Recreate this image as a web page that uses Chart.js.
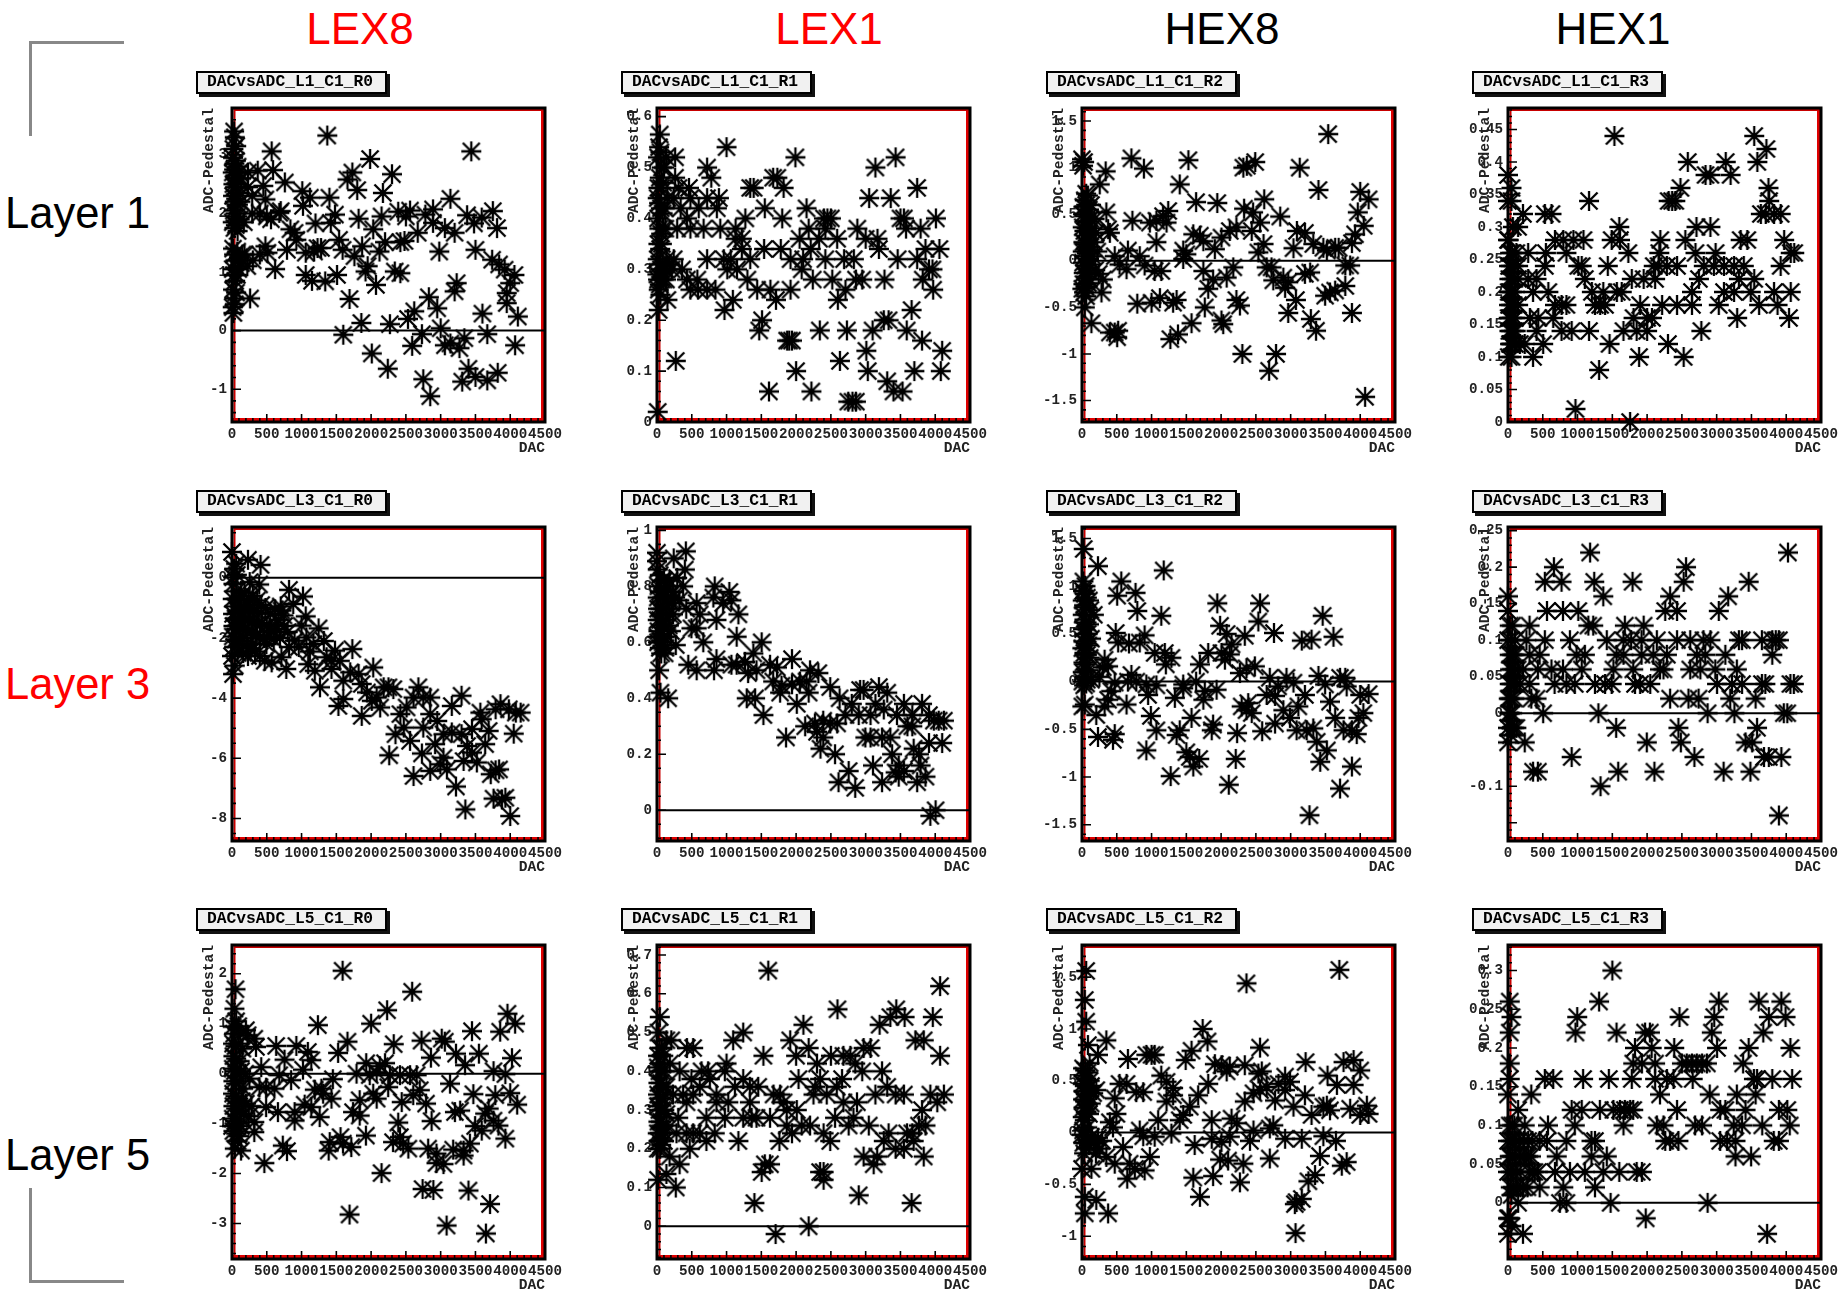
<!DOCTYPE html>
<html>
<head>
<meta charset="utf-8">
<title>DACvsADC</title>
<script src="https://cdn.jsdelivr.net/npm/chart.js@4/dist/chart.umd.min.js"></script>
<style>
    html, body { margin: 0; padding: 0; background: #fff; }
    body { position: relative; width: 1838px; height: 1290px; overflow: hidden; }
    canvas { position: absolute; }
    .head { position: absolute; font: 44px "Liberation Sans", sans-serif; transform: translate(-50%, -50%); white-space: nowrap; }
    .layer { position: absolute; font: 43.5px "Liberation Sans", sans-serif; transform: translateY(-50%); white-space: nowrap; }
    .pave { position: absolute; box-sizing: border-box; width: 191px; height: 23px; border: 2px solid #000; background: #f1f1f1;
        box-shadow: 3px 3px 0 #111; font: bold 16.3px "Liberation Mono", monospace; line-height: 18px; padding-left: 9px; white-space: nowrap; }
    .bracket { position: absolute; width: 92px; height: 92px; border: 0 solid #888; }
</style>
</head>
<body>
<script>
const heads = ['LEX8', 'LEX1', 'HEX8', 'HEX1'];
const headColors = ['#ff0000', '#ff0000', '#000000', '#000000'];
const layers = ['Layer 1', 'Layer 3', 'Layer 5'];
const layerColors = ['#000000', '#ff0000', '#000000'];
const xTicks = [0, 500, 1000, 1500, 2000, 2500, 3000, 3500, 4000, 4500];

// [DAC, ADC-Pedestal]
const L1_R0 = [[1370,3.33],[3440,3.06],[570,3.06],[1985,2.93],[590,2.74],[2300,2.67],[1730,2.7],[1660,2.58],[1800,2.4],[2170,2.35],[760,2.53],[1010,2.38],[1120,2.27],[1400,2.27],[1020,2.13],[3140,2.25],[1480,1.98],[1200,1.83],[1420,1.84],[700,2.04],[680,2.01],[1820,1.91],[2150,1.95],[2390,2.03],[2560,2.05],[2500,1.95],[2890,2.07],[2780,1.98],[2890,1.84],[3060,1.75],[3200,1.67],[3380,1.97],[3480,1.83],[3590,1.93],[3750,2.04],[3810,1.75],[2030,1.73],[2670,1.67],[1540,1.55],[1590,1.38],[2200,1.51],[2420,1.51],[2480,1.53],[2980,1.35],[3500,1.38],[1870,1.44],[2120,1.35],[1760,1.27],[1230,1.41],[1180,1.35],[1280,1.41],[1060,1.33],[790,1.38],[900,1.67],[840,1.73],[925,1.55],[480,1.44],[400,1.3],[510,1.33],[620,1.05],[1060,.95],[1150,.85],[1340,.84],[1510,.95],[1950,1.1],[1920,1.01],[2340,1.01],[2420,.98],[2070,.78],[3740,1.21],[3840,1.13],[3920,1.04],[4060,.95],[4000,.81],[3950,.64],[3950,.47],[3230,.81],[3200,.67],[2830,.57],[2950,.38],[2620,.33],[1690,.54],[260,.55],[2530,.2],[2270,.11],[1860,.13],[1600,-.07],[3600,.29],[4110,.24],[3670,-.06],[2730,-.06],[3000,.04],[3340,-.13],[2590,-.26],[3060,-.25],[3140,-.22],[3270,-.3],[4070,-.25],[2010,-.39],[2240,-.65],[2750,-.83],[2850,-1.12],[3310,-.87],[3400,-.65],[3500,-.79],[3670,-.85],[3820,-.72],[230,2.7],[370,2.73],[230,2.45],[450,2.47],[480,2.24],[290,2],[400,2],[170,1.85],[290,2.3],[500,1.95],[560,1.9],[150,1.3],[300,1.2],[220,1.1],[30,3.4],[40,3.3],[20,3.1],[60,3.15],[15,2.95],[35,2.85],[55,2.9],[80,2.8],[10,2.7],[30,2.75],[50,2.65],[70,2.6],[100,2.7],[20,2.5],[45,2.45],[65,2.5],[90,2.35],[130,2.6],[15,2.3],[40,2.2],[60,2.25],[85,2.15],[120,2.2],[25,2.05],[50,2],[75,1.95],[110,1.9],[10,1.85],[35,1.75],[55,1.8],[80,1.7],[15,1.4],[30,1.3],[50,1.2],[75,1.35],[100,1.25],[130,1.15],[180,1.3],[10,1.05],[25,.95],[45,.85],[70,.95],[90,1.05],[15,.7],[35,.55],[60,.65],[10,.4],[20,.3],[40,.45]];

const L1_R1 = [[10,.02],[270,.12],[25,.22],[150,.24],[970,.22],[1090,.24],[1510,.2],[1470,.18],[1870,.16],[1940,.16],[1900,.16],[2340,.18],[2730,.18],[3100,.18],[3260,.2],[3330,.2],[3590,.18],[3660,.22],[3810,.16],[4100,.14],[3010,.14],[1610,.06],[2000,.1],[2220,.06],[2630,.12],[2750,.04],[2860,.04],[2810,.04],[3030,.1],[3310,.08],[3400,.06],[3530,.06],[3700,.1],[4080,.1],[40,.565],[260,.52],[720,.5],[1000,.54],[780,.48],[1990,.52],[3140,.5],[3430,.52],[3740,.46],[1390,.46],[1340,.46],[1670,.48],[1730,.48],[1820,.46],[1550,.42],[1270,.4],[1800,.4],[2150,.42],[3050,.44],[3360,.44],[3500,.4],[3550,.4],[4010,.4],[2400,.4],[2450,.4],[2500,.4],[2180,.38],[2880,.38],[2420,.38],[3580,.38],[3790,.38],[2050,.36],[2330,.36],[2590,.36],[3000,.36],[3170,.36],[1130,.36],[1220,.36],[1540,.34],[1780,.34],[1220,.34],[2210,.34],[3190,.34],[3860,.34],[4060,.34],[720,.32],[960,.32],[1060,.32],[1340,.32],[1920,.32],[2100,.32],[2420,.32],[2690,.32],[2830,.32],[3460,.32],[3740,.32],[1010,.3],[1150,.3],[2080,.3],[3960,.3],[3910,.3],[1300,.28],[2240,.28],[2520,.28],[2860,.28],[2950,.28],[3270,.28],[3820,.28],[480,.26],[590,.26],[720,.26],[840,.26],[1440,.26],[1630,.26],[1920,.26],[2710,.26],[3970,.26],[1710,.24],[2600,.24],[290,.38],[480,.38],[670,.38],[910,.38],[1130,.38],[860,.42],[340,.42],[600,.42],[240,.44],[720,.44],[890,.44],[480,.44],[310,.46],[460,.46],[260,.48],[430,.4],[360,.3],[430,.28],[580,.28],[240,.32],[140,.32],[120,.3],[30,.54],[50,.53],[15,.52],[70,.5],[100,.5],[40,.48],[20,.46],[60,.46],[90,.47],[130,.52],[10,.44],[30,.43],[55,.42],[80,.41],[110,.42],[150,.44],[15,.4],[35,.38],[60,.37],[90,.38],[120,.38],[20,.35],[45,.34],[70,.35],[10,.32],[30,.31],[55,.3],[80,.31],[110,.3],[15,.28],[40,.27],[65,.28],[95,.28],[130,.28],[25,.26],[5,.29],[50,.25],[180,.31],[210,.3]];

const L1_R2 = [[3540,1.36],[1530,1.08],[710,1.1],[890,.99],[340,.96],[2370,1.02],[2490,1.06],[2320,1],[3130,1],[1405,.82],[255,.82],[3400,.76],[1640,.63],[1945,.62],[2620,.66],[4000,.74],[4120,.66],[2330,.56],[2460,.52],[2850,.475],[3965,.52],[1240,.535],[1165,.48],[1215,.41],[725,.43],[975,.41],[1070,.43],[350,.52],[375,.34],[400,.3],[2560,.41],[4050,.375],[3925,.285],[3880,.19],[2220,.36],[2125,.32],[2005,.25],[2440,.32],[3090,.32],[3205,.3],[3040,.135],[2610,.18],[2535,.09],[1600,.285],[1695,.27],[1745,.21],[1910,.125],[1070,.2],[1455,.11],[1500,.07],[1455,.02],[3325,.18],[3470,.14],[3520,.11],[3640,.14],[3690,.14],[3785,-.05],[3855,-.05],[470,.05],[540,-.04],[660,.11],[640,-.09],[830,.05],[900,-.05],[1045,-.11],[1140,-.11],[1745,-.11],[2175,-.07],[2080,-.18],[1885,-.2],[1815,-.3],[2655,-.07],[2725,-.07],[2750,-.21],[2895,-.18],[2920,-.29],[2965,-.23],[3205,-.14],[3280,-.125],[3785,-.27],[3640,-.32],[3565,-.34],[3495,-.375],[3075,-.42],[280,-.34],[300,-.2],[40,-.5],[135,-.67],[400,-.77],[470,-.77],[505,-.82],[520,-.75],[795,-.46],[1000,-.45],[1120,-.4],[1310,-.45],[1360,-.42],[1765,-.5],[2220,-.42],[2270,-.48],[2965,-.56],[3290,-.625],[3365,-.75],[3880,-.56],[1270,-.84],[1380,-.79],[1575,-.67],[2005,-.64],[2030,-.68],[2305,-1],[2790,-1],[2690,-1.18],[4070,-1.46],[0,1.09],[15,1.02],[30,1.06],[60,.72],[40,.65],[85,.7],[20,.58],[60,.6],[100,.55],[130,.6],[180,.45],[15,.5],[45,.48],[80,.42],[120,.45],[200,.3],[10,.36],[35,.32],[65,.35],[100,.3],[140,.35],[170,.2],[20,.2],[50,.18],[80,.22],[120,.15],[220,.1],[10,.1],[40,.05],[70,.08],[100,.02],[150,.05],[15,-.02],[45,-.05],[80,-.08],[120,-.04],[190,-.1],[25,-.13],[60,-.17],[100,-.19],[20,-.25],[50,-.28],[85,-.24],[30,-.34],[60,-.38],[5,-.3],[240,-.14]];

const L1_R3 = [[1530,.44],[3540,.44],[3715,.42],[3585,.4],[2585,.4],[3130,.4],[3200,.38],[2840,.38],[2910,.38],[2480,.36],[3745,.36],[2360,.34],[2310,.34],[2405,.34],[1165,.34],[3755,.34],[0,.38],[50,.36],[0,.34],[50,.34],[145,.3],[70,.3],[215,.32],[530,.32],[625,.32],[3635,.32],[3705,.32],[3825,.32],[3920,.32],[1600,.3],[2710,.3],[2910,.3],[0,.28],[675,.28],[795,.28],[940,.28],[1085,.28],[1490,.28],[1610,.28],[2190,.28],[2550,.28],[3345,.28],[3440,.28],[3970,.28],[120,.26],[290,.26],[545,.26],[840,.26],[1730,.26],[2175,.26],[2695,.26],[2985,.26],[4065,.26],[4115,.26],[145,.24],[530,.24],[1010,.24],[1060,.24],[1435,.24],[2095,.24],[2285,.24],[2430,.24],[2815,.24],[2960,.24],[3105,.24],[3250,.24],[3390,.24],[3920,.24],[2165,.24],[145,.22],[290,.22],[410,.22],[1105,.22],[1780,.22],[1950,.22],[2115,.22],[2745,.22],[3320,.22],[3540,.22],[360,.2],[580,.2],[1205,.2],[1370,.2],[1565,.2],[1635,.2],[2645,.2],[3105,.2],[3250,.2],[3490,.2],[3825,.2],[4065,.2],[145,.18],[675,.18],[770,.18],[840,.18],[1250,.18],[1325,.18],[1395,.18],[1900,.18],[2215,.18],[2430,.18],[2645,.18],[3030,.18],[3610,.18],[3875,.18],[315,.16],[435,.16],[650,.16],[1805,.16],[2000,.16],[2070,.16],[3295,.16],[4040,.16],[410,.14],[770,.14],[915,.14],[1165,.14],[1660,.14],[1850,.14],[2000,.14],[2780,.14],[170,.12],[240,.12],[505,.12],[1460,.12],[2300,.12],[50,.1],[360,.1],[1885,.1],[2525,.1],[1310,.08],[970,.02],[1755,0],[10,.28],[30,.26],[60,.26],[15,.24],[40,.24],[80,.24],[20,.22],[55,.22],[90,.22],[10,.2],[30,.2],[60,.2],[100,.2],[15,.18],[45,.18],[80,.18],[10,.16],[30,.16],[60,.16],[100,.16],[20,.14],[45,.14],[85,.14],[110,.14],[30,.12],[60,.12],[100,.12],[10,.1],[40,.12]];

const L3_R0 = [[0,.86],[230,.6],[410,.43],[60,.47],[255,-.14],[390,-.22],[15,.02],[820,-.4],[1020,-.62],[1060,-1.28],[880,-.87],[710,-1.09],[1245,-1.68],[1000,-1.59],[1170,-2.2],[900,-2.09],[1070,-1.98],[1730,-2.37],[1480,-2.42],[1430,-2.76],[1360,-2.64],[1550,-2.76],[1095,-2.87],[1190,-3.09],[1265,-3.64],[780,-3.03],[710,-2.64],[470,-2.76],[570,-2.81],[300,-2.2],[495,-2.2],[1430,-3.03],[2030,-2.98],[1820,-3.2],[1700,-3.14],[1600,-3.42],[1865,-3.53],[1940,-3.81],[2180,-3.64],[2250,-3.64],[2320,-3.7],[2010,-4.09],[1600,-4.03],[1530,-4.26],[1865,-4.59],[2130,-4.31],[2080,-3.98],[2680,-3.64],[2750,-3.98],[2610,-3.98],[2850,-3.98],[2510,-4.31],[2420,-4.53],[2850,-4.53],[2950,-4.76],[3160,-4.26],[3300,-3.92],[2350,-5.2],[2470,-4.98],[2560,-5.42],[2750,-4.98],[2920,-5.53],[3040,-5.2],[3160,-5.14],[3300,-5.2],[3450,-5.03],[3570,-4.48],[3590,-4.7],[3690,-5.09],[3640,-5.53],[3380,-5.59],[3450,-5.81],[3860,-4.2],[3790,-4.37],[3980,-4.37],[4080,-4.48],[4150,-4.48],[4050,-5.18],[2260,-5.9],[2730,-5.84],[3040,-5.98],[2995,-6.2],[3330,-6.09],[3520,-6.14],[2610,-6.59],[2850,-6.42],[3090,-6.37],[3220,-6.94],[3355,-7.7],[3720,-6.53],[3790,-6.4],[3840,-6.37],[3760,-7.34],[3880,-7.37],[3930,-7.31],[4000,-7.92],[15,-3.2],[40,-2.92],[0,-2.6],[160,-2.5],[30,.3],[70,.1],[20,-.2],[60,-.45],[100,-.7],[10,-.7],[40,-.95],[80,-1.1],[130,-.95],[170,-1.05],[220,-.9],[270,-1],[320,-1.1],[380,-1.15],[15,-1.2],[50,-1.35],[90,-1.4],[140,-1.3],[190,-1.35],[240,-1.4],[300,-1.45],[360,-1.55],[430,-1.5],[500,-1.6],[560,-1.75],[620,-1.55],[670,-1.4],[740,-1.25],[20,-1.6],[60,-1.7],[110,-1.65],[160,-1.7],[220,-1.75],[280,-1.8],[340,-1.9],[400,-1.95],[460,-2],[540,-1.95],[600,-2.05],[10,-1.95],[50,-2.05],[100,-2.1],[210,-2.25],[270,-2.35],[130,-.6],[180,-.5],[240,-.7],[300,-.6],[360,-.75],[420,-.9],[480,-1],[550,-1.2],[620,-1.05],[700,-.95],[640,-1.7],[750,-1.6],[800,-1.8],[690,-2],[150,-2],[30,-2.3],[80,-2.5],[230,-2.6],[330,-2.45],[400,-2.6],[820,-2.3],[960,-2.3],[1120,-2.45],[1320,-2.1]];

const L3_R1 = [[0,.92],[415,.925],[240,.9],[400,.86],[290,.83],[0,.89],[830,.8],[1040,.78],[375,.8],[810,.76],[1170,.7],[950,.74],[1070,.75],[855,.68],[570,.74],[615,.7],[420,.72],[495,.65],[665,.6],[570,.65],[270,.59],[110,.56],[1145,.62],[1505,.6],[450,.52],[570,.5],[820,.5],[855,.54],[1070,.52],[1145,.52],[1265,.53],[1385,.56],[1940,.54],[1310,.49],[1430,.5],[1625,.52],[1725,.51],[2200,.5],[2320,.49],[2055,.46],[1670,.46],[1790,.445],[1940,.45],[2150,.46],[2490,.44],[1770,.42],[2180,.42],[1290,.4],[1410,.4],[2010,.38],[1530,.34],[2625,.4],[2920,.43],[2970,.43],[3190,.44],[3310,.42],[2800,.38],[3140,.38],[3550,.38],[3810,.38],[2710,.34],[2900,.34],[3070,.34],[3260,.36],[3450,.34],[3670,.34],[3910,.34],[3980,.32],[4050,.32],[4125,.32],[3600,.3],[3670,.3],[2390,.32],[2490,.31],[2590,.31],[2270,.31],[2130,.3],[2300,.28],[2390,.26],[2350,.22],[1855,.26],[2995,.26],[3070,.26],[3235,.26],[3355,.26],[3910,.24],[4100,.24],[3690,.22],[3380,.2],[2560,.2],[3765,.2],[3790,.16],[3105,.16],[3475,.16],[3550,.14],[3430,.135],[2755,.14],[3860,.12],[3475,.12],[2610,.1],[3235,.1],[3740,.1],[2850,.08],[4005,0],[3930,-.02],[30,.5],[50,.42],[160,.4],[10,.86],[40,.84],[70,.82],[20,.8],[100,.82],[140,.8],[180,.82],[230,.78],[10,.76],[40,.78],[75,.76],[115,.78],[160,.76],[205,.74],[260,.76],[320,.75],[15,.72],[50,.72],[90,.72],[135,.72],[180,.7],[230,.7],[10,.68],[45,.68],[80,.66],[125,.68],[170,.66],[20,.64],[60,.63],[100,.62],[150,.62],[200,.64],[15,.6],[40,.58],[80,.6],[120,.58],[5,.62],[60,.56]];

const L3_R2 = [[25,1.39],[230,1.21],[1175,1.165],[565,1.05],[505,.9],[770,.93],[795,.74],[1140,.69],[1945,.82],[2560,.82],[3460,.69],[1985,.585],[2535,.63],[2760,.51],[2340,.48],[2080,.5],[485,.51],[520,.41],[675,.4],[900,.485],[830,.41],[3160,.43],[3300,.44],[3615,.47],[2150,.39],[1815,.3],[1045,.3],[1190,.3],[1285,.25],[2005,.3],[2055,.23],[2125,.285],[1695,.18],[1205,.18],[325,.23],[375,.16],[2270,.09],[2365,.14],[2485,.16],[710,.07],[660,0],[780,0],[3400,.06],[3710,.04],[3785,.04],[2940,.04],[2700,.04],[3040,-.01],[3495,-.03],[1070,-.04],[925,-.03],[1455,-.03],[1640,0],[470,-.01],[3805,-.05],[2820,-.05],[950,-.14],[1335,-.17],[1765,-.1],[1935,-.085],[1745,-.19],[1455,-.07],[420,-.1],[375,-.19],[325,-.26],[640,-.24],[2655,-.14],[2775,-.15],[3205,-.14],[3110,-.26],[3565,-.21],[4000,-.14],[4120,-.13],[2295,-.26],[2390,-.225],[2365,-.3],[2440,-.33],[2895,-.3],[2990,-.38],[4045,-.33],[3975,-.38],[3640,-.38],[205,-.35],[5,-.26],[40,-.24],[990,-.36],[1575,-.38],[1070,-.51],[1405,-.51],[1360,-.56],[1885,-.45],[1865,-.51],[2230,-.54],[2590,-.52],[2775,-.44],[3085,-.51],[3230,-.51],[3325,-.49],[3760,-.51],[3880,-.51],[3950,-.55],[230,-.58],[445,-.61],[470,-.55],[3375,-.63],[3520,-.72],[925,-.72],[1500,-.74],[1550,-.79],[1685,-.81],[1600,-.89],[2210,-.81],[3425,-.84],[3880,-.89],[1275,-.99],[2110,-1.08],[3710,-1.12],[3270,-1.4],[20,1.05],[50,1],[15,.95],[40,.92],[70,.88],[100,.85],[10,.85],[30,.8],[60,.78],[120,.75],[170,.7],[10,.7],[35,.65],[65,.62],[100,.6],[15,.55],[45,.5],[80,.5],[130,.45],[20,.42],[55,.4],[90,.38],[5,.35],[35,.3],[70,.28],[110,.25],[20,.2],[50,.18],[90,.12],[10,.1],[40,.05],[70,.02],[5,0],[30,-.04],[60,-.02],[130,.02],[250,.05],[300,.15]];

const L3_R3 = [[1180,.22],[4025,.22],[660,.2],[2560,.2],[530,.18],[770,.18],[1240,.18],[1790,.18],[2525,.18],[3460,.18],[0,.16],[1370,.16],[2330,.16],[3165,.16],[0,.14],[560,.14],[790,.14],[1010,.14],[2260,.14],[2430,.14],[3030,.14],[25,.12],[310,.12],[1155,.12],[1225,.12],[1680,.12],[1950,.12],[0,.1],[100,.1],[265,.1],[530,.1],[890,.1],[1420,.1],[1660,.1],[1770,.1],[1920,.1],[2140,.1],[2430,.1],[2620,.1],[2810,.1],[2910,.1],[3320,.1],[3365,.1],[3650,.1],[3800,.1],[3850,.1],[3895,.1],[25,.08],[310,.08],[455,.08],[985,.08],[1105,.08],[1560,.08],[1660,.08],[1920,.08],[2090,.08],[2285,.08],[2715,.08],[2835,.08],[3125,.08],[3800,.08],[215,.06],[430,.06],[625,.06],[790,.06],[1060,.06],[1515,.06],[1800,.06],[2185,.06],[2235,.06],[2620,.06],[2765,.06],[2980,.06],[3290,.06],[25,.04],[310,.04],[670,.04],[840,.04],[960,.04],[1250,.04],[1395,.04],[1490,.04],[1825,.04],[1900,.04],[2045,.04],[3005,.04],[3220,.04],[3365,.04],[3650,.04],[3700,.04],[4060,.04],[4110,.04],[25,.02],[335,.02],[410,.02],[2330,.02],[2595,.02],[2740,.02],[3195,.02],[3560,.02],[25,0],[505,0],[1300,0],[2870,0],[3255,0],[3965,0],[4015,0],[0,-.02],[120,-.02],[1555,-.02],[2450,-.02],[3580,-.02],[0,-.04],[240,-.04],[1995,-.04],[2485,-.04],[3415,-.04],[3510,-.04],[915,-.06],[2680,-.06],[3680,-.06],[3750,-.06],[3930,-.06],[360,-.08],[430,-.08],[1585,-.08],[2105,-.08],[3100,-.08],[3485,-.08],[1330,-.1],[3895,-.14],[60,.12],[40,.1],[60,.08],[80,.08],[110,.08],[30,.06],[60,.06],[100,.06],[140,.06],[50,.04],[80,.04],[120,.04],[170,.04],[10,.02],[50,.02],[90,.02],[30,-.01],[60,-.02],[90,-.02],[20,.0],[60,0],[40,-.03]];

const L5_R0 = [[1590,2.06],[50,1.69],[2590,1.64],[2230,1.27],[3960,1.2],[2000,1],[1235,.97],[4070,1],[3855,.84],[3450,.85],[1660,.64],[2325,.59],[2725,.66],[3015,.7],[3060,.64],[635,.555],[925,.555],[1525,.415],[1090,.435],[3220,.4],[3550,.4],[4025,.31],[2860,.32],[755,.28],[1140,.27],[1930,.21],[2200,.21],[2125,.15],[3350,.17],[420,.13],[1020,.08],[1790,0],[1980,-.03],[2080,.03],[2415,-.03],[2560,-.03],[2655,-.03],[3760,.05],[3930,-.01],[680,-.03],[2270,-.03],[850,-.13],[1450,-.11],[3135,-.2],[2245,-.27],[395,-.27],[490,-.28],[610,-.3],[1190,-.32],[1285,-.3],[1310,-.4],[1430,-.5],[2030,-.4],[2080,-.5],[2700,-.33],[2605,-.43],[3470,-.41],[3785,-.43],[4000,-.39],[1835,-.53],[2440,-.57],[2790,-.6],[4100,-.62],[490,-.67],[660,-.77],[1045,-.62],[1140,-.67],[900,-.77],[1260,-.87],[1740,-.77],[1835,-.84],[3205,-.77],[3280,-.74],[3640,-.8],[3690,-.7],[900,-.94],[2390,-.98],[2870,-.95],[3760,-.94],[3830,-1.04],[3495,-1.05],[3590,-1.14],[3930,-1.3],[320,-.97],[320,-1.17],[1925,-1.24],[1560,-1.27],[1405,-1.37],[1715,-1.47],[1390,-1.54],[1595,-1.4],[2315,-1.37],[2415,-1.27],[2460,-1.4],[2535,-1.5],[2820,-1.5],[2940,-1.6],[2940,-1.79],[3040,-1.81],[3180,-1.52],[3330,-1.54],[3330,-1.64],[3420,-1.4],[730,-1.44],[790,-1.55],[465,-1.79],[130,-1.54],[2150,-1.99],[2740,-2.31],[2895,-2.33],[3400,-2.34],[3710,-2.61],[1690,-2.82],[3085,-3.04],[3650,-3.2],[35,1.3],[10,.94],[200,.87],[225,.77],[320,.7],[345,.535],[120,.8],[60,1.05],[30,.8],[90,.95],[15,.6],[50,.55],[90,.6],[150,.5],[20,.35],[60,.3],[110,.25],[10,.1],[40,.05],[80,.1],[130,.05],[190,0],[250,-.1],[20,-.15],[60,-.2],[105,-.15],[160,-.3],[15,-.4],[50,-.45],[90,-.5],[140,-.55],[200,-.6],[280,-.65],[20,-.65],[60,-.7],[110,-.75],[170,-.8],[240,-.85],[10,-.9],[45,-.95],[85,-1],[130,-1.05],[20,-1.15],[60,-1.2],[100,-1.25],[40,-1.5],[80,-1.35],[0,-1.05]];

const L5_R1 = [[1600,.66],[4070,.62],[2595,.56],[40,.54],[3440,.56],[3355,.54],[3560,.54],[3965,.54],[2105,.52],[3200,.52],[1240,.5],[1095,.48],[1915,.48],[3715,.48],[3835,.48],[135,.48],[205,.48],[430,.46],[520,.46],[2180,.46],[2970,.46],[3070,.46],[1530,.44],[2000,.44],[2500,.44],[2680,.44],[2780,.44],[4070,.44],[1000,.42],[185,.42],[2300,.42],[2850,.42],[325,.4],[640,.4],[735,.4],[2950,.4],[3235,.4],[975,.4],[2035,.38],[2345,.38],[2660,.38],[495,.38],[760,.38],[1240,.38],[615,.36],[1120,.36],[1335,.36],[1455,.36],[2585,.36],[2275,.36],[3310,.36],[230,.34],[375,.34],[520,.34],[855,.34],[1675,.34],[1770,.34],[2250,.34],[2440,.34],[3140,.34],[3430,.34],[3550,.34],[3930,.34],[4125,.34],[425,.32],[855,.32],[1025,.32],[1335,.32],[1820,.32],[2680,.32],[2875,.32],[4030,.32],[1865,.3],[2010,.3],[3810,.3],[135,.29],[305,.28],[710,.28],[975,.28],[1240,.28],[1360,.28],[1430,.28],[1625,.28],[2560,.28],[2825,.28],[1865,.26],[2080,.26],[2200,.26],[2755,.26],[3045,.26],[3860,.26],[3765,.26],[280,.24],[425,.24],[520,.24],[615,.24],[830,.24],[1940,.24],[2395,.24],[3330,.24],[3595,.24],[3670,.24],[710,.22],[1170,.22],[1760,.22],[2490,.22],[3260,.22],[3690,.22],[470,.2],[3430,.2],[3550,.2],[180,.18],[2970,.18],[3165,.18],[3835,.18],[325,.16],[1550,.16],[1625,.16],[3115,.16],[1505,.14],[2345,.14],[2395,.14],[15,.12],[135,.135],[2395,.12],[270,.1],[2900,.08],[1400,.06],[3660,.06],[2180,0],[1705,-.02],[20,.5],[40,.46],[70,.46],[15,.44],[50,.42],[90,.44],[10,.41],[35,.4],[70,.4],[110,.4],[20,.37],[55,.37],[90,.36],[135,.36],[15,.34],[45,.33],[80,.33],[120,.34],[10,.31],[35,.3],[70,.3],[105,.3],[20,.27],[55,.27],[90,.26],[135,.26],[10,.24],[40,.24],[75,.24],[115,.24],[25,.22],[60,.21],[100,.22],[10,.2],[45,.2]];

const L5_R2 = [[60,1.56],[2365,1.44],[3700,1.57],[40,1.28],[60,1.07],[1735,1],[1805,.88],[350,.89],[85,.845],[1575,.79],[2560,.82],[230,.75],[660,.71],[925,.75],[1000,.75],[1045,.75],[1490,.7],[3215,.68],[110,.67],[3760,.68],[3905,.7],[1910,.66],[2005,.65],[2125,.635],[2340,.65],[4000,.6],[2585,.59],[2080,.59],[2535,.57],[3530,.55],[1140,.55],[2920,.54],[1215,.49],[540,.47],[640,.47],[3665,.46],[3905,.46],[1815,.47],[2825,.47],[2990,.49],[780,.39],[880,.39],[205,.41],[1310,.43],[2655,.44],[2560,.41],[2465,.38],[1670,.36],[2920,.41],[3205,.36],[470,.33],[1310,.36],[2340,.3],[2775,.31],[1215,.3],[3040,.25],[1550,.25],[3520,.26],[3470,.25],[3565,.215],[3855,.23],[4095,.26],[3300,.17],[4000,.17],[4120,.18],[495,.18],[1455,.17],[400,.1],[1095,.12],[1405,.12],[1865,.12],[2150,.135],[2225,.09],[2750,.07],[830,.02],[2465,.02],[2700,.04],[445,.05],[880,-.035],[1045,-.04],[1285,-.01],[1865,-.06],[2005,-.09],[2125,-.04],[2415,-.08],[2920,-.06],[3160,-.06],[3470,-.035],[3650,-.08],[1620,-.12],[255,-.155],[350,-.235],[590,-.14],[470,-.3],[685,-.3],[975,-.235],[3420,-.225],[2700,-.25],[1985,-.26],[2100,-.27],[2320,-.3],[3805,-.285],[3735,-.32],[760,-.35],[900,-.365],[135,-.35],[0,-.35],[1885,-.42],[3350,-.41],[1600,-.435],[650,-.445],[2270,-.48],[3255,-.47],[1695,-.62],[40,-.62],[205,-.65],[375,-.78],[40,-.78],[3160,-.64],[3085,-.67],[3060,-.69],[3070,-.97],[15,.62],[45,.6],[80,.58],[20,.55],[60,.52],[110,.5],[10,.47],[40,.45],[80,.43],[130,.45],[20,.4],[55,.37],[100,.35],[160,.38],[15,.32],[45,.3],[80,.27],[125,.28],[20,.24],[60,.2],[100,.18],[10,.15],[40,.12],[75,.05],[15,.02],[0,-.02],[50,-.03],[90,-.07],[130,-.04],[170,-.1],[230,-.05],[290,-.08],[20,-.1],[60,-.15],[100,-.12],[200,-.2],[30,-.2]];

const L5_R3 = [[1500,.3],[25,.26],[1310,.26],[3030,.26],[3605,.26],[3930,.26],[50,.24],[995,.24],[2465,.24],[2965,.24],[3750,.24],[3990,.24],[25,.22],[970,.22],[1560,.22],[1970,.22],[2040,.22],[2930,.22],[3670,.22],[1825,.2],[2065,.2],[2390,.2],[3005,.2],[3460,.2],[4060,.2],[25,.18],[1800,.18],[1925,.18],[2115,.18],[2500,.18],[2570,.18],[2645,.18],[2715,.18],[2790,.18],[2860,.18],[3380,.18],[25,.16],[650,.16],[530,.16],[1080,.16],[1450,.16],[1780,.16],[2115,.16],[2285,.16],[2380,.16],[2655,.16],[3535,.16],[3580,.16],[3800,.16],[4085,.16],[0,.14],[335,.14],[2185,.14],[2900,.14],[3290,.14],[3560,.14],[145,.12],[915,.12],[1060,.12],[1320,.12],[1515,.12],[1610,.12],[1680,.12],[1755,.12],[1800,.12],[2430,.12],[3050,.12],[3125,.12],[3415,.12],[3895,.12],[4015,.12],[25,.1],[240,.1],[575,.1],[960,.1],[1660,.1],[2140,.1],[2235,.1],[2690,.1],[2790,.1],[3245,.1],[3365,.1],[3655,.1],[4050,.1],[0,.08],[290,.08],[455,.08],[560,.08],[840,.08],[1200,.08],[1250,.08],[2260,.08],[2330,.08],[2450,.08],[3050,.08],[3150,.08],[3270,.08],[3820,.08],[3895,.08],[25,.06],[170,.06],[290,.06],[700,.06],[1200,.06],[1420,.06],[3270,.06],[3495,.06],[0,.04],[310,.04],[430,.04],[675,.04],[890,.04],[1105,.04],[1370,.04],[1600,.04],[1850,.04],[1925,.04],[75,.02],[215,.02],[455,.02],[795,.02],[1250,.02],[145,0],[745,0],[840,0],[1475,0],[2870,0],[0,-.02],[25,-.02],[1980,-.02],[0,-.04],[215,-.04],[3725,-.04],[60,.1],[90,.1],[40,.08],[70,.08],[110,.08],[160,.08],[230,.08],[350,.08],[30,.06],[60,.06],[100,.06],[230,.06],[260,.06],[330,.06],[40,.04],[70,.04],[120,.04],[180,.04],[350,.04],[380,.04],[40,.02],[120,.02],[180,.02],[280,.02],[50,.01],[10,-.02],[50,-.03]];

const seriesByPanel = [
    [L1_R0, L1_R1, L1_R2, L1_R3],
    [L3_R0, L3_R1, L3_R2, L3_R3],
    [L5_R0, L5_R1, L5_R2, L5_R3],
];
const titlesByPanel = [
    ['DACvsADC_L1_C1_R0', 'DACvsADC_L1_C1_R1', 'DACvsADC_L1_C1_R2', 'DACvsADC_L1_C1_R3'],
    ['DACvsADC_L3_C1_R0', 'DACvsADC_L3_C1_R1', 'DACvsADC_L3_C1_R2', 'DACvsADC_L3_C1_R3'],
    ['DACvsADC_L5_C1_R0', 'DACvsADC_L5_C1_R1', 'DACvsADC_L5_C1_R2', 'DACvsADC_L5_C1_R3'],
];
const yRanges = [
    [[-1.56, 3.8], [0, 0.617], [-1.73, 1.64], [0, 0.483]],
    [[-8.75, 1.69], [-0.11, 1.012], [-1.67, 1.62], [-0.175, 0.255]],
    [[-3.71, 2.575], [-0.0845, 0.726], [-1.22, 1.81], [-0.0725, 0.333]],
];
const yTickLists = [
    [[-1, 0, 1, 2, 3], [0, 0.1, 0.2, 0.3, 0.4, 0.5, 0.6], [-1.5, -1, -0.5, 0, 0.5, 1, 1.5], [0, 0.05, 0.1, 0.15, 0.2, 0.25, 0.3, 0.35, 0.4, 0.45]],
    [[-8, -6, -4, -2, 0], [0, 0.2, 0.4, 0.6, 0.8, 1], [-1.5, -1, -0.5, 0, 0.5, 1, 1.5], [-0.15, -0.1, -0.05, 0, 0.05, 0.1, 0.15, 0.2, 0.25]],
    [[-3, -2, -1, 0, 1, 2], [0, 0.1, 0.2, 0.3, 0.4, 0.5, 0.6, 0.7], [-1, -0.5, 0, 0.5, 1, 1.5], [0, 0.05, 0.1, 0.15, 0.2, 0.25, 0.3]],
];
const unlabelledTicks = [-0.15, -0.05];

const frameLefts = [232, 657, 1082, 1508];
const frameTops = [108, 527, 945];
const frameW = 313;
const frameH = 314;
const padLeft = 60;
const padTop = 15;

const addDiv = (cls, text, css) => {
    const el = document.createElement('div');
    el.className = cls;
    el.textContent = text;
    Object.assign(el.style, css);
    document.body.appendChild(el);
    return el;
};

// the marker: cross plus a slightly shorter X, handed to Chart.js as a pointStyle
const makeStar = () => {
    const c = document.createElement('canvas');
    c.width = 24;
    c.height = 24;
    const g = c.getContext('2d');
    const m = 12;
    const arm = 10;
    const diag = 8.5;
    g.strokeStyle = '#000';
    g.lineWidth = 2.3;
    g.beginPath();
    g.moveTo(m - arm, m); g.lineTo(m + arm, m);
    g.moveTo(m, m - arm); g.lineTo(m, m + arm);
    g.moveTo(m - diag, m - diag); g.lineTo(m + diag, m + diag);
    g.moveTo(m - diag, m + diag); g.lineTo(m + diag, m - diag);
    g.stroke();
    return c;
};
const starMarker = makeStar();

// inside ticks and the black/red frame, from the chart's own scales
const framePlugin = {
    id: 'rootFrame',
    beforeDatasetsDraw(chart) {
        const { ctx, chartArea: a, scales: { x, y } } = chart;
        const yStep = y.ticks[1].value - y.ticks[0].value;
        const yDiv = (Math.abs(yStep - 0.2) < 1e-6 || yStep === 2) ? 4 : 5;
        ctx.save();
        ctx.strokeStyle = '#e00000';
        ctx.lineWidth = 3;
        ctx.beginPath();
        ctx.moveTo(a.right - 2.5, a.top);
        ctx.lineTo(a.right - 2.5, a.bottom - 2.5);
        ctx.lineTo(a.left, a.bottom - 2.5);
        ctx.stroke();
        ctx.lineWidth = 2;
        ctx.strokeStyle = '#c80000';
        ctx.beginPath();
        ctx.moveTo(a.left + 2.5, a.bottom);
        ctx.lineTo(a.left + 2.5, a.top + 2);
        ctx.lineTo(a.right, a.top + 2);
        ctx.stroke();

        ctx.strokeStyle = '#000';
        ctx.lineWidth = 1.6;
        ctx.beginPath();
        for (let v = 0; v <= 4500; v += 100) {
            const px = x.getPixelForValue(v);
            const len = v % 500 === 0 ? 8 : 4;
            ctx.moveTo(px, a.bottom);
            ctx.lineTo(px, a.bottom - len);
        }
        const minor = yStep / yDiv;
        for (let i = Math.ceil(y.min / minor); i * minor <= y.max; i++) {
            const py = y.getPixelForValue(i * minor);
            const len = i % yDiv === 0 ? 9 : 4;
            ctx.moveTo(a.left, py);
            ctx.lineTo(a.left + len, py);
        }
        ctx.stroke();

        ctx.lineWidth = 3;
        ctx.strokeRect(a.left, a.top, a.right - a.left, a.bottom - a.top);
        ctx.restore();
    }
};

const makePanel = (row, col) => {
    const canvas = document.createElement('canvas');
    canvas.width = padLeft + frameW + 35;
    canvas.height = padTop + frameH + 45;
    canvas.style.left = (frameLefts[col] - padLeft) + 'px';
    canvas.style.top = (frameTops[row] - padTop) + 'px';
    document.body.appendChild(canvas);

    addDiv('pave', titlesByPanel[row][col], { left: (frameLefts[col] - 36) + 'px', top: (frameTops[row] - 37) + 'px' });

    const [yMin, yMax] = yRanges[row][col];
    const axisFont = { family: '"Liberation Mono", monospace', size: 14.2, weight: 'bold' };
    const titleFont = { family: '"Liberation Mono", monospace', size: 14.6, weight: 'bold' };

    new Chart(canvas, {
        type: 'scatter',
        data: {
            datasets: [
                {
                    type: 'line',
                    data: [{ x: 0, y: 0 }, { x: 4500, y: 0 }],
                    borderColor: '#000',
                    borderWidth: 2,
                    pointRadius: 0,
                },
                {
                    data: seriesByPanel[row][col].map(p => ({ x: p[0], y: p[1] })),
                    pointStyle: starMarker,
                    pointRadius: 10,
                    clip: false,
                },
            ],
        },
        options: {
            responsive: false,
            animation: false,
            events: [],
            layout: { padding: { left: 0, top: padTop, right: 35, bottom: 5 } },
            plugins: { legend: { display: false }, tooltip: { enabled: false }, title: { display: false } },
            scales: {
                x: {
                    type: 'linear',
                    min: 0,
                    max: 4500,
                    grid: { display: false, drawTicks: false },
                    border: { display: false },
                    afterBuildTicks: s => { s.ticks = xTicks.map(v => ({ value: v })); },
                    afterFit: s => { s.height = 40; },
                    ticks: { autoSkip: false, maxRotation: 0, minRotation: 0, padding: 4, color: '#222', font: axisFont, callback: v => String(v) },
                    title: { display: true, text: 'DAC', align: 'end', color: '#222', font: titleFont, padding: { top: 0, bottom: 5 } },
                },
                y: {
                    type: 'linear',
                    min: yMin,
                    max: yMax,
                    grid: { display: false, drawTicks: false },
                    border: { display: false },
                    afterBuildTicks: s => { s.ticks = yTickLists[row][col].map(v => ({ value: v })); },
                    afterFit: s => { s.width = padLeft; },
                    ticks: {
                        autoSkip: false,
                        padding: 5,
                        color: '#222',
                        font: axisFont,
                        callback: v => (row === 1 && col === 3 && unlabelledTicks.includes(v) ? '' : String(v)),
                    },
                    title: { display: true, text: 'ADC-Pedestal', align: 'end', color: '#222', font: titleFont, padding: { top: 29, bottom: 0 } },
                },
            },
        },
        plugins: [framePlugin],
    });
};

const headCenters = [360, 829, 1222, 1613];
heads.forEach((h, i) => addDiv('head', h, { left: headCenters[i] + 'px', top: '29px', color: headColors[i] }));
const layerCenters = [213, 684, 1155];
layers.forEach((l, i) => addDiv('layer', l, { left: '5px', top: layerCenters[i] + 'px', color: layerColors[i] }));
addDiv('bracket', '', { left: '29px', top: '41px', borderLeftWidth: '3px', borderTopWidth: '3px' });
addDiv('bracket', '', { left: '29px', top: '1188px', borderLeftWidth: '3px', borderBottomWidth: '3px' });

for (let r = 0; r < 3; r++) {
    for (let c = 0; c < 4; c++) makePanel(r, c);
}
</script>
</body>
</html>
